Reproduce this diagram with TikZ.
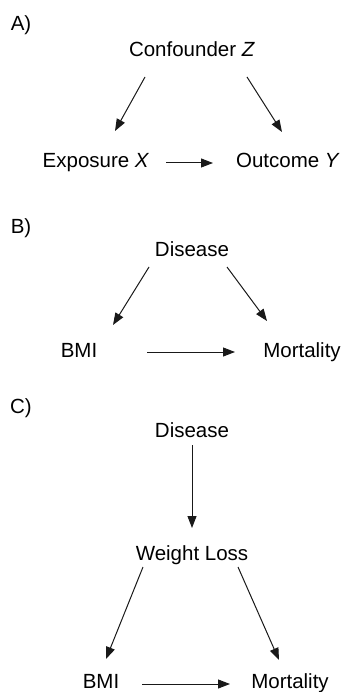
\documentclass[tikz,border=0pt]{standalone}
\usepackage{fontspec}
\setmainfont{Liberation Sans}
\usetikzlibrary{arrows.meta}
\begin{document}
\begin{tikzpicture}[x=1pt,y=-1pt,
  lbl/.style={anchor=base,inner sep=0pt,font=\fontsize{20.5}{24}\selectfont},
  arr/.style={-{Triangle[length=12pt,width=9pt]},line width=1pt,black!90}]
\useasboundingbox (0,0) rectangle (343,692);
% A
\node[lbl] (la) at (21,31) {A)};
\node[lbl] (z) at (192,57) {Confounder \textit{Z}};
\node[lbl] (x) at (96,168) {Exposure \textit{X}};
\node[lbl] (y) at (288,168) {Outcome \textit{Y}};
\draw[arr] ([shift={(-47,20)}]z.base) -- ([shift={(19,-37)}]x.base);
\draw[arr] ([shift={(55,20)}]z.base) -- ([shift={(-6,-36)}]y.base);
\draw[arr] ([shift={(70,-5)}]x.base) -- ([shift={(-75,-5)}]y.base);
% B
\node[lbl] (lb) at (21,234) {B)};
\node[lbl] (bd) at (192,257) {Disease};
\node[lbl] (bb) at (79,357) {BMI};
\node[lbl] (bm) at (302,357) {Mortality};
\draw[arr] ([shift={(-43,10)}]bd.base) -- ([shift={(34,-32)}]bb.base);
\draw[arr] ([shift={(35,10)}]bd.base) -- ([shift={(-35,-36)}]bm.base);
\draw[arr] ([shift={(68,-5)}]bb.base) -- ([shift={(-67,-5)}]bm.base);
% C
\node[lbl] (lc) at (21,413) {C)};
\node[lbl] (cd) at (192,437) {Disease};
\node[lbl] (cw) at (192,560) {Weight Loss};
\node[lbl] (cb) at (101,688) {BMI};
\node[lbl] (cm) at (290,688) {Mortality};
\draw[arr] ([shift={(0,8)}]cd.base) -- ([shift={(0,-32)}]cw.base);
\draw[arr] ([shift={(-49,7)}]cw.base) -- ([shift={(5,-29)}]cb.base);
\draw[arr] ([shift={(46,7)}]cw.base) -- ([shift={(-11,-28)}]cm.base);
\draw[arr] ([shift={(41,-4)}]cb.base) -- ([shift={(-60,-4)}]cm.base);
\end{tikzpicture}
\end{document}
